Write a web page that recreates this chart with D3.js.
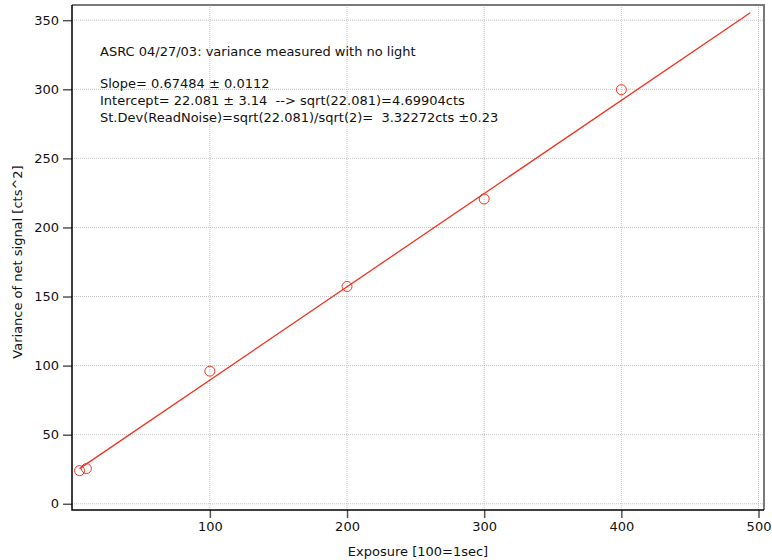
<!DOCTYPE html>
<html>
<head>
<meta charset="utf-8">
<script src="https://cdn.jsdelivr.net/npm/d3@7"></script>
<style>
  body { margin: 0; background: #fff; }
  text { font-family: "DejaVu Sans", sans-serif; fill: #111; }
</style>
</head>
<body>
<div class="chartContainer"></div>
<script>
// measured points
const exposure = [5, 10, 100, 200, 300, 400];
const variance = [24.0, 25.5, 96.0, 157.3, 220.6, 299.7];

// linear fit result
const slope = 0.67484;
const intercept = 22.081;
const fitRange = [5, 494];

const xTicks = [100, 200, 300, 400, 500];
const yTicks = [0, 50, 100, 150, 200, 250, 300, 350];

const notes = [
  "ASRC 04/27/03: variance measured with no light",
  "Slope= 0.67484 \u00b1 0.0112",
  "Intercept= 22.081 \u00b1 3.14  --> sqrt(22.081)=4.69904cts",
  "St.Dev(ReadNoise)=sqrt(22.081)/sqrt(2)=  3.32272cts \u00b10.23"
];

document.addEventListener("DOMContentLoaded", function () {
  const w = 772;
  const h = 560;
  const left = 72, right = 764, top = 5, bottom = 510;
  const red = "#f2321e";

  const xScale = d3.scaleLinear().domain([-0.5, 504]).range([left, right]);
  const yScale = d3.scaleLinear().domain([-4.5, 361]).range([bottom, top]);

  const svg = d3
    .select(".chartContainer")
    .append("svg")
    .attr("width", w)
    .attr("height", h);

  // dotted grid
  svg
    .selectAll(".vgrid")
    .data(xTicks)
    .enter()
    .append("line")
    .attr("x1", (d) => xScale(d))
    .attr("x2", (d) => xScale(d))
    .attr("y1", top)
    .attr("y2", bottom)
    .attr("stroke", "#c4c4c4")
    .attr("stroke-dasharray", "1,1");

  svg
    .selectAll(".hgrid")
    .data(yTicks)
    .enter()
    .append("line")
    .attr("x1", left)
    .attr("x2", right)
    .attr("y1", (d) => yScale(d))
    .attr("y2", (d) => yScale(d))
    .attr("stroke", "#c4c4c4")
    .attr("stroke-dasharray", "1,1");

  // frame: top and right in grey
  svg
    .append("path")
    .attr("d", `M${left},${top}H${right}V${bottom}`)
    .attr("fill", "none")
    .attr("stroke", "#7a7a7a")
    .attr("stroke-width", 2);

  const xAxis = d3
    .axisBottom(xScale)
    .tickValues(xTicks)
    .tickSize(8)
    .tickPadding(4)
    .tickSizeOuter(0);
  const yAxis = d3
    .axisLeft(yScale)
    .tickValues(yTicks)
    .tickSize(9)
    .tickPadding(4)
    .tickSizeOuter(0);

  const gx = svg
    .append("g")
    .attr("id", "x-axis")
    .attr("transform", "translate(0," + bottom + ")")
    .call(xAxis);
  const gy = svg
    .append("g")
    .attr("id", "y-axis")
    .attr("transform", "translate(" + left + ",0)")
    .call(yAxis);

  [gx, gy].forEach((g) => {
    g.select(".domain").remove();
    g.selectAll(".tick line").attr("stroke", "#555").attr("stroke-width", 1.5);
    g.selectAll(".tick text").style("font-size", "13px").attr("fill", "#111");
  });

  // black left and bottom axis lines
  svg
    .append("path")
    .attr("d", `M${left},${top}V${bottom}H${right}`)
    .attr("fill", "none")
    .attr("stroke", "#000")
    .attr("stroke-width", 1.5);

  // fit line
  svg
    .append("line")
    .attr("x1", xScale(fitRange[0]))
    .attr("y1", yScale(intercept + slope * fitRange[0]))
    .attr("x2", xScale(fitRange[1]))
    .attr("y2", yScale(intercept + slope * fitRange[1]))
    .attr("stroke", red)
    .attr("stroke-width", 1.3);

  // data markers
  svg
    .selectAll("circle")
    .data(exposure)
    .enter()
    .append("circle")
    .attr("cx", (d) => xScale(d))
    .attr("cy", (d, i) => yScale(variance[i]))
    .attr("r", 5)
    .attr("fill", "none")
    .attr("stroke", red)
    .attr("stroke-width", 1);

  // annotation
  const baselines = [56, 88, 105, 122];
  svg
    .selectAll(".note")
    .data(notes)
    .enter()
    .append("text")
    .attr("class", "note")
    .attr("x", 100)
    .attr("y", (d, i) => baselines[i])
    .style("font-size", "13px")
    .style("white-space", "pre")
    .text((d) => d);

  // axis titles
  svg
    .append("text")
    .attr("x", 418)
    .attr("y", 556)
    .attr("text-anchor", "middle")
    .style("font-size", "13px")
    .text("Exposure [100=1sec]");

  svg
    .append("text")
    .attr("transform", "translate(22,262) rotate(-90)")
    .attr("text-anchor", "middle")
    .style("font-size", "13px")
    .text("Variance of net signal [cts^2]");
});
</script>
</body>
</html>
